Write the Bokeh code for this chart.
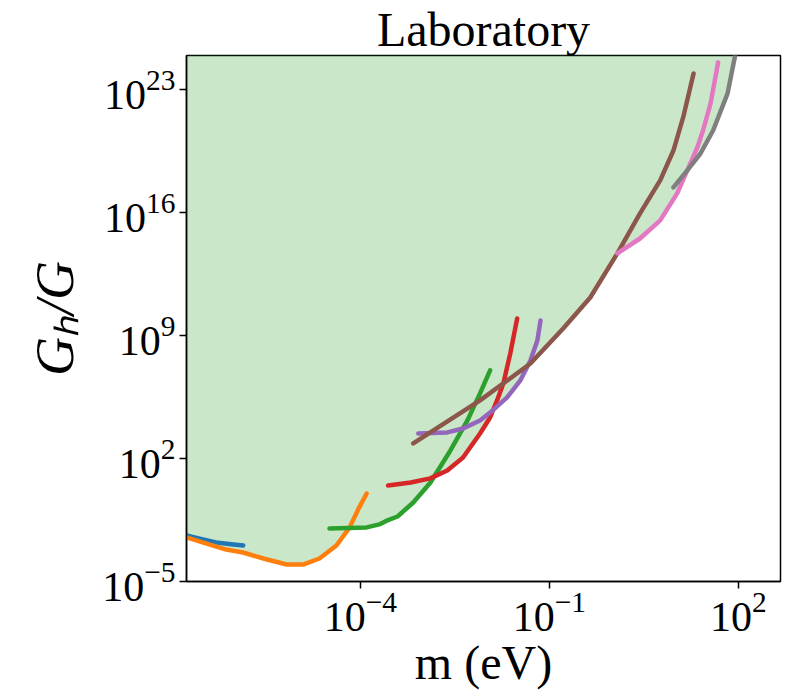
import numpy as np
from bokeh.plotting import figure
from bokeh.models import FixedTicker, Range1d
from bokeh.embed import file_html
from bokeh.resources import INLINE

# Values, as log10(m / eV) and log10(G_h / G)
blue_lm = [-6.85, -6.76, -6.50, -6.29, -6.05, -5.86]
blue_lg = [-2.33, -2.38, -2.60, -2.78, -2.88, -2.95]

orange_lm = [-6.85, -6.76, -6.44, -6.13, -5.86, -5.54, -5.17, -4.90, -4.65, -4.38, -4.17, -4.02, -3.90]
orange_lg = [-2.44, -2.49, -2.84, -3.18, -3.35, -3.69, -4.03, -4.03, -3.69, -2.95, -1.92, -0.79, 0.01]

green_lm = [-4.49, -4.20, -3.90, -3.70, -3.59, -3.41, -3.16, -2.89, -2.57, -2.30, -2.10, -1.94]
green_lg = [-1.98, -1.96, -1.92, -1.75, -1.55, -1.30, -0.50, 0.62, 2.46, 4.17, 5.71, 7.02]

red_lm = [-3.56, -3.20, -2.89, -2.62, -2.37, -2.10, -1.94, -1.83, -1.73, -1.62, -1.51]
red_lg = [0.47, 0.64, 0.87, 1.32, 2.06, 3.43, 4.34, 5.31, 6.28, 7.98, 9.98]

purple_lm = [-3.08, -2.62, -2.37, -2.10, -1.90, -1.67, -1.46, -1.30, -1.19, -1.14]
purple_lg = [3.43, 3.49, 3.71, 4.17, 4.74, 5.48, 6.45, 7.59, 8.72, 9.86]

brown_lm = [-3.16, -2.10, -1.30, -0.78, -0.35, 0.08, 0.44, 0.76, 0.97, 1.13, 1.29]
brown_lg = [2.86, 5.31, 7.41, 9.41, 11.17, 13.68, 15.96, 17.84, 19.54, 21.50, 23.93]

pink_lm = [0.08, 0.44, 0.76, 1.03, 1.19, 1.35, 1.44, 1.56, 1.68]
pink_lg = [13.68, 14.53, 15.56, 17.10, 18.41, 19.72, 20.68, 22.22, 24.56]

gray_lm = [0.97, 1.19, 1.40, 1.60, 1.83, 1.95, 2.00]
gray_lg = [17.44, 18.41, 19.37, 20.68, 22.79, 24.95, 25.60]

# Combined excluded region (lower envelope of the curves, filled upward)
fill_lm = [-6.85, -6.76, -6.44, -6.13, -5.86, -5.54, -5.17, -4.90, -4.65, -4.38, -4.17,
           -3.90, -3.70, -3.59, -3.41, -3.16, -2.89, -2.85, -2.62, -2.37, -2.10, -1.94, -1.88,
           -1.67, -1.46, -1.33, -0.78, -0.35, 0.08, 0.44, 0.76, 1.03, 1.19, 1.40, 1.60,
           1.83, 1.95, 2.00, 2.00, -6.85]
fill_lg = [-2.44, -2.49, -2.84, -3.18, -3.35, -3.69, -4.03, -4.03, -3.69, -2.95, -1.96,
           -1.92, -1.75, -1.55, -1.30, -0.50, 0.62, 0.90, 1.32, 2.06, 3.43, 4.34, 4.80,
           5.48, 6.45, 7.35, 9.41, 11.17, 13.68, 14.53, 15.56, 17.10, 18.41, 19.37, 20.68,
           22.79, 24.95, 25.60, 25.60, 25.60]

x_ticks = [1e-4, 1e-1, 1e2]
y_ticks = [1e-5, 1e2, 1e9, 1e16, 1e23]

series = [
    (blue_lm, blue_lg, "#1f77b4"),
    (orange_lm, orange_lg, "#ff7f0e"),
    (green_lm, green_lg, "#2ca02c"),
    (red_lm, red_lg, "#d62728"),
    (purple_lm, purple_lg, "#9467bd"),
    (brown_lm, brown_lg, "#8c564b"),
    (pink_lm, pink_lg, "#e377c2"),
    (gray_lm, gray_lg, "#7f7f7f"),
]

def p10(a):
    return list(10.0 ** np.array(a))

SERIF = "Liberation Serif"

p = figure(width=789, height=695, x_axis_type="log", y_axis_type="log",
           output_backend="svg", toolbar_location=None,
           x_range=Range1d(10 ** -6.76, 10 ** 2.67), y_range=Range1d(1e-5, 10 ** 24.95),
           min_border_left=186, min_border_right=9, min_border_top=55, min_border_bottom=114,
           title="Laboratory")

p.title.text_font = SERIF
p.title.text_font_size = "48px"
p.title.text_font_style = "normal"
p.title.text_color = "black"
p.title.align = "center"
p.title.standoff = 0
p.title.offset = 0

p.patch(p10(fill_lm), p10(fill_lg), fill_color="#2ca02c", fill_alpha=0.25, line_color=None)

for lm, lg, c in series:
    p.line(p10(lm), p10(lg), line_color=c, line_width=4.5, line_cap="round", line_join="round")

p.grid.visible = False
p.background_fill_color = "white"
p.border_fill_color = "white"
p.outline_line_color = "black"
p.outline_line_width = 1.5
p.outline_line_alpha = 1.0

p.xaxis.ticker = FixedTicker(ticks=x_ticks, minor_ticks=[])
p.yaxis.ticker = FixedTicker(ticks=y_ticks, minor_ticks=[])

for ax in (p.xaxis[0], p.yaxis[0]):
    ax.major_label_text_font = SERIF
    ax.major_label_text_font_size = "42px"
    ax.major_label_text_color = "black"
    ax.axis_label_text_font = SERIF
    ax.axis_label_text_color = "black"
    ax.axis_line_color = "black"
    ax.axis_line_width = 1.5
    ax.major_tick_line_color = "black"
    ax.major_tick_line_width = 1.5
    ax.major_tick_out = 7
    ax.major_tick_in = 0
    ax.minor_tick_out = 0
    ax.minor_tick_in = 0
    ax.major_label_standoff = 4

p.xaxis.axis_label = "m (eV)"
p.xaxis.axis_label_text_font_size = "48px"
p.xaxis.axis_label_text_font_style = "normal"
p.xaxis.axis_label_standoff = 2
p.yaxis.axis_label = "Gₕ/G"
p.yaxis.axis_label_text_font_size = "54px"
p.yaxis.axis_label_text_font_style = "italic"
p.yaxis.axis_label_standoff = 14

open("out.html", "w").write(file_html(p, INLINE))
